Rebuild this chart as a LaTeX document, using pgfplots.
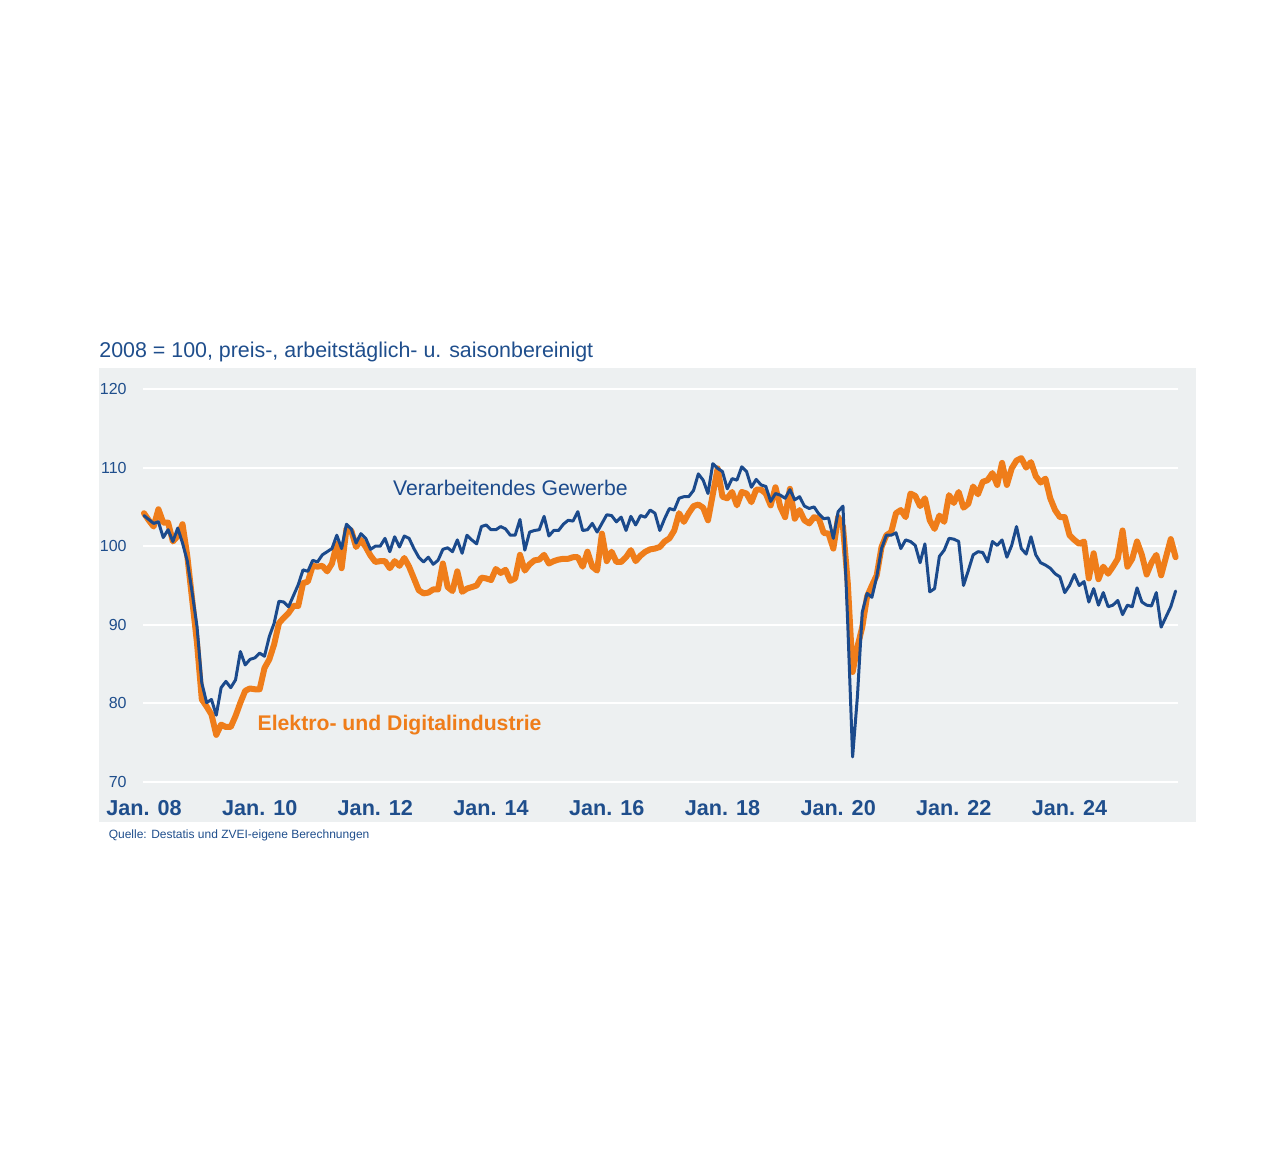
\documentclass[border=0pt]{standalone}
\usepackage{pgfplots}
\pgfplotsset{compat=1.18}
\usepackage{fontspec}
\setmainfont{Liberation Sans}
\definecolor{zblue}{HTML}{1B4A8C}
\definecolor{zorange}{HTML}{EF7D1A}
\definecolor{zbg}{HTML}{EDF0F1}
\definecolor{ztext}{HTML}{1F4E8C}
\begin{document}
\begin{tikzpicture}
\useasboundingbox (-71.5pt,-193pt) rectangle (567pt,391pt);
\fill[zbg] (-22pt,-20pt) rectangle (526.5pt,207pt);
\node[anchor=base west, inner sep=0pt, text=ztext, font=\fontsize{10.7pt}{12pt}\selectfont] at (-22pt,212.5pt) {2008 = 100, preis-, arbeitstäglich- u. saisonbereinigt};
\node[anchor=base west, inner sep=0pt, text=ztext, font=\fontsize{6pt}{7pt}\selectfont] at (-17.3pt,-28pt) {Quelle: Destatis und ZVEI-eigene Berechnungen};
\begin{axis}[
  at={(0pt,0pt)}, anchor=south west,
  scale only axis, width=517.5pt, height=196.5pt,
  xmin=-0.2, xmax=214.5, ymin=70, ymax=120,
  clip=false,
  axis line style={draw=none}, tick style={draw=none},
  ymajorgrids, grid style={white, line width=1pt},
  ytick={70,80,90,100,110,120},
  xtick={0,24,48,72,96,120,144,168,192},
  xticklabels={Jan. 08,Jan. 10,Jan. 12,Jan. 14,Jan. 16,Jan. 18,Jan. 20,Jan. 22,Jan. 24},
  /pgf/number format/assume math mode=true,
  yticklabel style={anchor=east, inner sep=0pt, xshift=-8pt, text=ztext, font=\fontsize{8pt}{9pt}\selectfont},
  xticklabel style={anchor=base, inner sep=0pt, yshift=-16.5pt, text=ztext, font=\fontsize{10.8pt}{12pt}\selectfont\bfseries},
  every axis plot/.append style={line join=round, line cap=round},
]
\addplot[zorange, line width=3pt] coordinates {
(0,104.2)(1,103.3)(2,102.5)(3,104.7)(4,103.0)(5,103.0)(6,100.6)(7,101.3)(8,102.8)(9,98.7)
(10,93.2)(11,87.7)(12,80.5)(13,79.6)(14,78.6)(15,76.0)(16,77.3)(17,77.0)(18,77.0)(19,78.4)
(20,80.1)(21,81.6)(22,81.9)(23,81.8)(24,81.8)(25,84.5)(26,85.6)(27,87.5)(28,90.2)(29,90.9)
(30,91.5)(31,92.4)(32,92.4)(33,95.3)(34,95.5)(35,97.5)(36,97.4)(37,97.5)(38,96.8)(39,97.8)
(40,100.3)(41,97.2)(42,102.2)(43,102.0)(44,99.9)(45,100.8)(46,99.9)(47,98.8)(48,98.0)(49,98.1)
(50,98.1)(51,97.2)(52,98.1)(53,97.5)(54,98.5)(55,97.4)(56,95.9)(57,94.4)(58,94.0)(59,94.1)
(60,94.5)(61,94.5)(62,97.8)(63,94.8)(64,94.3)(65,96.8)(66,94.2)(67,94.6)(68,94.8)(69,95.0)
(70,96.0)(71,95.9)(72,95.7)(73,97.1)(74,96.6)(75,97.0)(76,95.6)(77,95.9)(78,98.9)(79,96.9)
(80,97.7)(81,98.2)(82,98.3)(83,98.9)(84,97.8)(85,98.1)(86,98.3)(87,98.4)(88,98.4)(89,98.6)
(90,98.6)(91,97.4)(92,99.3)(93,97.4)(94,96.9)(95,101.6)(96,98.1)(97,99.3)(98,98.0)(99,98.0)
(100,98.6)(101,99.5)(102,98.1)(103,98.8)(104,99.3)(105,99.6)(106,99.7)(107,99.9)(108,100.6)(109,101.0)
(110,102.0)(111,104.2)(112,103.1)(113,104.2)(114,105.1)(115,105.3)(116,104.9)(117,103.3)(118,106.6)(119,109.9)
(120,106.3)(121,106.1)(122,106.9)(123,105.2)(124,106.9)(125,106.7)(126,105.6)(127,107.2)(128,107.2)(129,106.7)
(130,105.2)(131,107.5)(132,105.0)(133,103.7)(134,107.3)(135,103.5)(136,104.6)(137,103.3)(138,102.9)(139,103.7)
(140,103.5)(141,101.7)(142,101.6)(143,99.7)(144,103.7)(145,102.5)(146,95.3)(147,84.0)(148,87.2)(149,89.7)
(150,93.6)(151,95.0)(152,96.3)(153,99.9)(154,101.4)(155,101.8)(156,104.2)(157,104.6)(158,103.7)(159,106.7)
(160,106.4)(161,105.1)(162,106.1)(163,103.3)(164,102.2)(165,103.9)(166,103.1)(167,106.5)(168,105.5)(169,106.9)
(170,104.9)(171,105.4)(172,107.6)(173,106.6)(174,108.2)(175,108.4)(176,109.3)(177,107.8)(178,110.6)(179,107.8)
(180,109.9)(181,110.9)(182,111.2)(183,110.0)(184,110.7)(185,108.9)(186,108.1)(187,108.6)(188,106.1)(189,104.6)
(190,103.7)(191,103.7)(192,101.4)(193,100.8)(194,100.3)(195,100.6)(196,95.9)(197,99.1)(198,95.8)(199,97.4)
(200,96.5)(201,97.4)(202,98.4)(203,102.0)(204,97.4)(205,98.4)(206,100.6)(207,98.9)(208,96.4)(209,97.9)
(210,98.9)(211,96.3)(212,98.6)(213,100.9)(214,98.6)
};
\addplot[zblue, line width=1.5pt] coordinates {
(0,103.9)(1,103.4)(2,102.9)(3,103.1)(4,101.1)(5,102.1)(6,100.6)(7,102.3)(8,100.4)(9,98.1)
(10,94.1)(11,89.8)(12,82.6)(13,80.1)(14,80.5)(15,78.5)(16,82.0)(17,82.8)(18,82.0)(19,83.0)
(20,86.6)(21,84.9)(22,85.6)(23,85.8)(24,86.4)(25,86.0)(26,88.5)(27,90.2)(28,93.0)(29,92.9)
(30,92.3)(31,93.7)(32,95.1)(33,97.0)(34,96.8)(35,98.2)(36,98.0)(37,98.9)(38,99.3)(39,99.7)
(40,101.4)(41,99.7)(42,102.8)(43,102.2)(44,100.4)(45,101.6)(46,101.0)(47,99.6)(48,100.0)(49,100.0)
(50,101.0)(51,99.3)(52,101.2)(53,99.9)(54,101.3)(55,101.0)(56,99.7)(57,98.6)(58,98.0)(59,98.6)
(60,97.7)(61,98.2)(62,99.6)(63,99.8)(64,99.3)(65,100.8)(66,99.1)(67,101.4)(68,100.8)(69,100.3)
(70,102.5)(71,102.7)(72,102.1)(73,102.1)(74,102.5)(75,102.2)(76,101.4)(77,101.4)(78,103.4)(79,99.5)
(80,101.8)(81,102.0)(82,102.1)(83,103.8)(84,101.3)(85,102.0)(86,102.0)(87,102.8)(88,103.3)(89,103.2)
(90,104.4)(91,102.0)(92,102.1)(93,102.9)(94,101.8)(95,102.9)(96,104.0)(97,103.9)(98,103.1)(99,103.7)
(100,102.0)(101,103.8)(102,102.7)(103,103.9)(104,103.7)(105,104.6)(106,104.2)(107,102.0)(108,103.5)(109,104.8)
(110,104.6)(111,106.1)(112,106.3)(113,106.3)(114,107.1)(115,109.2)(116,108.4)(117,106.7)(118,110.5)(119,109.9)
(120,109.5)(121,107.3)(122,108.6)(123,108.4)(124,110.1)(125,109.5)(126,107.5)(127,108.5)(128,107.8)(129,107.6)
(130,105.7)(131,106.7)(132,106.5)(133,106.1)(134,107.2)(135,105.9)(136,106.3)(137,105.1)(138,104.8)(139,105.0)
(140,104.1)(141,103.5)(142,103.6)(143,101.0)(144,104.4)(145,105.1)(146,90.0)(147,73.2)(148,80.9)(149,91.6)
(150,94.0)(151,93.5)(152,96.1)(153,99.7)(154,101.4)(155,101.4)(156,101.7)(157,99.7)(158,100.8)(159,100.6)
(160,100.1)(161,97.9)(162,100.3)(163,94.2)(164,94.6)(165,98.7)(166,99.5)(167,101.0)(168,100.9)(169,100.6)
(170,95.0)(171,96.9)(172,98.9)(173,99.3)(174,99.2)(175,98.0)(176,100.6)(177,100.1)(178,100.8)(179,98.6)
(180,100.1)(181,102.5)(182,99.7)(183,99.0)(184,101.2)(185,98.9)(186,97.9)(187,97.6)(188,97.2)(189,96.5)
(190,96.1)(191,94.1)(192,95.0)(193,96.4)(194,95.0)(195,95.5)(196,92.9)(197,94.6)(198,92.5)(199,94.1)
(200,92.3)(201,92.5)(202,93.1)(203,91.3)(204,92.5)(205,92.3)(206,94.7)(207,92.9)(208,92.5)(209,92.4)
(210,94.1)(211,89.7)(212,91.0)(213,92.3)(214,94.3)
};
\node[anchor=base west, inner sep=0pt, text=zblue, font=\fontsize{10.6pt}{12pt}\selectfont] at (axis cs:51.6,106.5) {Verarbeitendes Gewerbe};
\node[anchor=base west, inner sep=0pt, text=zorange, font=\fontsize{10.6pt}{12pt}\selectfont\bfseries] at (axis cs:23.5,76.6) {Elektro- und Digitalindustrie};
\end{axis}
\end{tikzpicture}
\end{document}
